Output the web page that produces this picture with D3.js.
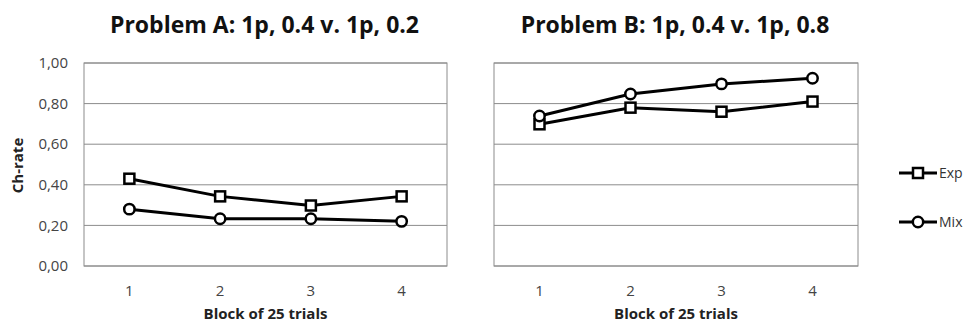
<!DOCTYPE html>
<html>
<head>
<meta charset="utf-8">
<script src="https://cdn.jsdelivr.net/npm/d3@7"></script>
<style>
  body { margin: 0; background: #fff; }
  svg { display: block; }
</style>
</head>
<body>
<svg width="965" height="324"></svg>
<script>
// data
const blocks = ["1", "2", "3", "4"];
const yTicks = [0, 0.2, 0.4, 0.6, 0.8, 1.0];
const titles = ["Problem A: 1p, 0.4 v. 1p, 0.2", "Problem B: 1p, 0.4 v. 1p, 0.8"];
const expA = [0.43, 0.343, 0.298, 0.343];
const mixA = [0.28, 0.233, 0.233, 0.22];
const expB = [0.698, 0.78, 0.76, 0.81];
const mixB = [0.739, 0.847, 0.897, 0.925];
const seriesNames = ["Exp", "Mix"];

let svg = d3.select("svg");
const top_ = 63, bottom = 266;
const panels = [
  {x0: 84, x1: 447, title: titles[0], exp: expA, mix: mixA, yLabels: true},
  {x0: 494, x1: 858, title: titles[1], exp: expB, mix: mixB, yLabels: false}
];

let y = d3.scaleLinear().domain([0, 1]).range([bottom, top_]);
let fmt = d => d3.format(".2f")(d).replace(".", ",");

panels.forEach(p => {
  let x = d3.scaleBand().domain(blocks).range([p.x0, p.x1]);
  let cx = d => x(d) + x.bandwidth() / 2;
  let g = svg.append("g");

  // gridlines
  g.selectAll(".grid").data(yTicks).enter().append("line")
    .attr("x1", p.x0).attr("x2", p.x1)
    .attr("y1", d => y(d)).attr("y2", d => y(d))
    .attr("stroke", "#8c8c8c").attr("stroke-width", 1);
  // box
  g.append("rect")
    .attr("x", p.x0).attr("y", top_)
    .attr("width", p.x1 - p.x0).attr("height", bottom - top_)
    .attr("fill", "none").attr("stroke", "#8c8c8c").attr("stroke-width", 1);

  if (p.yLabels) {
    g.selectAll(".ylab").data(yTicks).enter().append("text")
      .attr("x", 68).attr("y", d => y(d))
      .attr("dy", "0.35em")
      .attr("text-anchor", "end")
      .style("font", "15px 'Open Sans', sans-serif")
      .attr("fill", "#444")
      .text(fmt);
    g.append("text")
      .attr("transform", "translate(23," + ((top_ + bottom) / 2 + 1) + ") rotate(-90)")
      .attr("text-anchor", "middle")
      .style("font", "bold 15px 'Open Sans', sans-serif")
      .attr("fill", "#222")
      .text("Ch-rate");
  }

  // x tick labels
  g.selectAll(".xlab").data(blocks).enter().append("text")
    .attr("x", cx).attr("y", 296)
    .attr("text-anchor", "middle")
    .style("font", "15px 'Open Sans', sans-serif")
    .attr("fill", "#444")
    .text(d => d);

  g.append("text")
    .attr("x", (p.x0 + p.x1) / 2).attr("y", 319)
    .attr("text-anchor", "middle")
    .style("font", "bold 15px 'Open Sans', sans-serif")
    .attr("fill", "#222")
    .text("Block of 25 trials");

  g.append("text")
    .attr("x", (p.x0 + p.x1) / 2 - 1).attr("y", 33)
    .attr("text-anchor", "middle")
    .style("font", "bold 23px 'Open Sans', sans-serif")
    .attr("fill", "#111")
    .text(p.title);

  let line = d3.line().x((d, i) => cx(blocks[i])).y(d => y(d));
  [p.exp, p.mix].forEach(vals => {
    g.append("path").attr("d", line(vals))
      .attr("fill", "none").attr("stroke", "#000").attr("stroke-width", 3);
  });
  g.selectAll(".sq").data(p.exp).enter().append("rect")
    .attr("x", (d, i) => cx(blocks[i]) - 5).attr("y", d => y(d) - 5)
    .attr("width", 10).attr("height", 10)
    .attr("fill", "#fff").attr("stroke", "#000").attr("stroke-width", 2.5);
  g.selectAll(".ci").data(p.mix).enter().append("circle")
    .attr("cx", (d, i) => cx(blocks[i])).attr("cy", d => y(d))
    .attr("r", 5.2)
    .attr("fill", "#fff").attr("stroke", "#000").attr("stroke-width", 2.5);
});

// legend
let leg = svg.append("g");
seriesNames.forEach((name, i) => {
  let ly = 173 + i * 49;
  leg.append("line").attr("x1", 899).attr("x2", 937).attr("y1", ly).attr("y2", ly)
    .attr("stroke", "#000").attr("stroke-width", 3);
  if (i === 0) {
    leg.append("rect").attr("x", 913).attr("y", ly - 5).attr("width", 10).attr("height", 10)
      .attr("fill", "#fff").attr("stroke", "#000").attr("stroke-width", 2.5);
  } else {
    leg.append("circle").attr("cx", 918).attr("cy", ly).attr("r", 5.2)
      .attr("fill", "#fff").attr("stroke", "#000").attr("stroke-width", 2.5);
  }
  leg.append("text").attr("x", 939).attr("y", ly).attr("dy", "0.35em")
    .style("font", "14px 'Open Sans', sans-serif")
    .attr("fill", "#333")
    .text(name);
});
</script>
</body>
</html>
